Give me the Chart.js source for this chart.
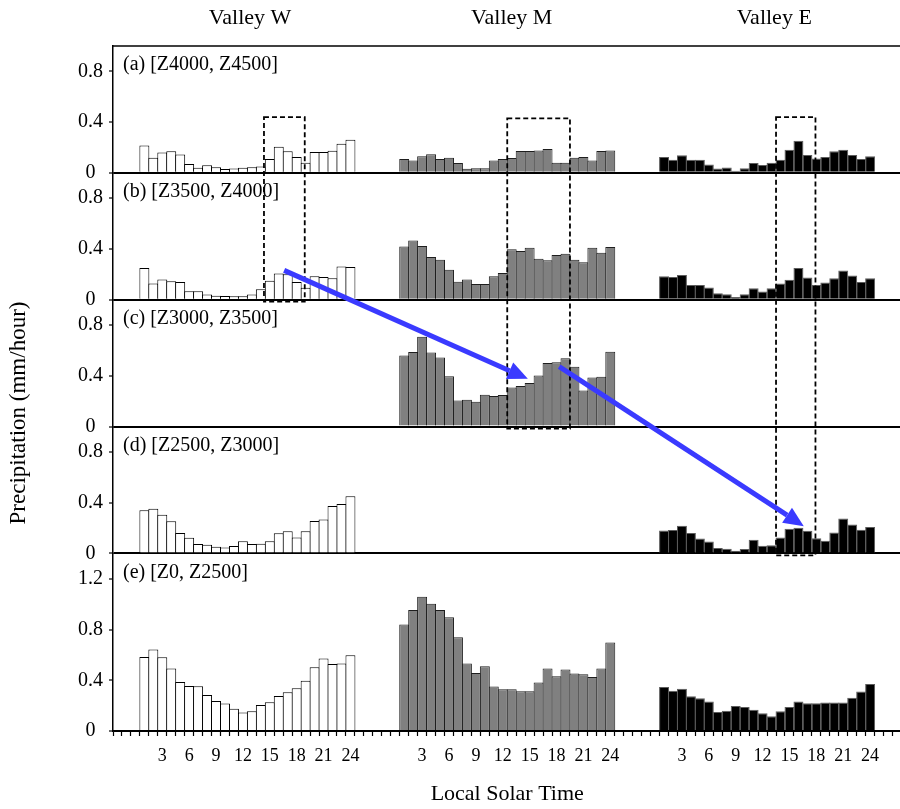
<!DOCTYPE html>
<html>
<head>
<meta charset="utf-8">
<title>Diurnal precipitation by valley and elevation band</title>
<script src="https://cdn.jsdelivr.net/npm/chart.js@4/dist/chart.umd.min.js"></script>
<style>
  html, body { margin: 0; padding: 0; background: #fff; overflow: hidden; }
  #wrap { position: relative; width: 906px; height: 809px; }
</style>
</head>
<body>
<div id="wrap"><canvas id="chart"></canvas></div>
<script>
// Hourly precipitation (mm/hour), hours 1..24, per valley and elevation band
const valleys = ['Valley W', 'Valley M', 'Valley E'];
const hourTicks = ['3', '6', '9', '12', '15', '18', '21', '24'];

// (a) [Z4000, Z4500]
const wA = [0.215, 0.12, 0.16, 0.17, 0.145, 0.07, 0.04, 0.06, 0.045, 0.03, 0.035, 0.04, 0.045, 0.05, 0.11, 0.205, 0.17, 0.125, 0.08, 0.165, 0.165, 0.175, 0.23, 0.26];
const mA = [0.11, 0.098, 0.13, 0.146, 0.11, 0.12, 0.077, 0.032, 0.037, 0.037, 0.098, 0.11, 0.117, 0.172, 0.172, 0.177, 0.188, 0.08, 0.08, 0.12, 0.125, 0.098, 0.172, 0.177];
const eA = [0.125, 0.103, 0.138, 0.103, 0.103, 0.066, 0.034, 0.042, 0.016, 0.037, 0.077, 0.061, 0.08, 0.103, 0.183, 0.254, 0.14, 0.114, 0.125, 0.17, 0.183, 0.14, 0.109, 0.13];
// (b) [Z3500, Z4000]
const wB = [0.25, 0.127, 0.16, 0.145, 0.14, 0.066, 0.066, 0.042, 0.032, 0.03, 0.027, 0.027, 0.042, 0.082, 0.15, 0.207, 0.2, 0.14, 0.095, 0.185, 0.178, 0.17, 0.262, 0.257];
const mB = [0.419, 0.467, 0.424, 0.336, 0.315, 0.237, 0.141, 0.16, 0.123, 0.123, 0.184, 0.21, 0.397, 0.384, 0.41, 0.323, 0.312, 0.352, 0.363, 0.315, 0.296, 0.41, 0.37, 0.416];
const eB = [0.184, 0.179, 0.195, 0.115, 0.115, 0.096, 0.051, 0.043, 0.021, 0.043, 0.091, 0.064, 0.091, 0.128, 0.157, 0.25, 0.176, 0.115, 0.135, 0.17, 0.23, 0.19, 0.14, 0.17];
// (c) [Z3000, Z3500]
const wC = [0, 0, 0, 0, 0, 0, 0, 0, 0, 0, 0, 0, 0, 0, 0, 0, 0, 0, 0, 0, 0, 0, 0, 0];
const mC = [0.56, 0.587, 0.707, 0.584, 0.544, 0.397, 0.205, 0.211, 0.195, 0.251, 0.24, 0.248, 0.307, 0.32, 0.344, 0.403, 0.501, 0.507, 0.539, 0.472, 0.285, 0.387, 0.392, 0.589];
const eC = [0, 0, 0, 0, 0, 0, 0, 0, 0, 0, 0, 0, 0, 0, 0, 0, 0, 0, 0, 0, 0, 0, 0, 0];
// (d) [Z2500, Z3000]
const wD = [0.34, 0.353, 0.305, 0.253, 0.16, 0.124, 0.074, 0.068, 0.053, 0.047, 0.058, 0.095, 0.074, 0.076, 0.095, 0.158, 0.174, 0.126, 0.174, 0.255, 0.268, 0.374, 0.39, 0.45];
const mD = [0, 0, 0, 0, 0, 0, 0, 0, 0, 0, 0, 0, 0, 0, 0, 0, 0, 0, 0, 0, 0, 0, 0, 0];
const eD = [0.181, 0.184, 0.219, 0.16, 0.117, 0.093, 0.043, 0.037, 0.021, 0.035, 0.107, 0.061, 0.064, 0.125, 0.195, 0.203, 0.179, 0.12, 0.099, 0.165, 0.275, 0.227, 0.187, 0.208];
// (e) [Z0, Z2500]
const wE = [0.584, 0.642, 0.582, 0.492, 0.387, 0.355, 0.353, 0.284, 0.237, 0.216, 0.176, 0.145, 0.155, 0.205, 0.226, 0.276, 0.305, 0.337, 0.397, 0.503, 0.571, 0.529, 0.532, 0.597];
const mE = [0.84, 0.953, 1.058, 1.003, 0.953, 0.897, 0.739, 0.532, 0.458, 0.511, 0.35, 0.329, 0.329, 0.313, 0.313, 0.382, 0.492, 0.432, 0.484, 0.453, 0.447, 0.426, 0.492, 0.697];
const eE = [0.347, 0.318, 0.334, 0.274, 0.258, 0.232, 0.15, 0.16, 0.197, 0.189, 0.168, 0.139, 0.116, 0.155, 0.189, 0.232, 0.218, 0.218, 0.224, 0.224, 0.224, 0.263, 0.311, 0.371];

const panels = [
  { id: 'ya', label: '(a) [Z4000, Z4500]', max: 1.0, series: [wA, mA, eA] },
  { id: 'yb', label: '(b) [Z3500, Z4000]', max: 1.0, series: [wB, mB, eB] },
  { id: 'yc', label: '(c) [Z3000, Z3500]', max: 1.0, series: [wC, mC, eC] },
  { id: 'yd', label: '(d) [Z2500, Z3000]', max: 1.0, series: [wD, mD, eD] },
  { id: 'ye', label: '(e) [Z0, Z2500]', max: 1.4, series: [wE, mE, eE] }
];

// empty slots before, between and after the three 24-hour groups
const LEAD = 3, GAP = 5, TAIL = 3;
const slotLabels = [];
const groupStart = [];
for (let s = 0; s < LEAD; s++) slotLabels.push('');
valleys.forEach((v, g) => {
  if (g > 0) for (let s = 0; s < GAP; s++) slotLabels.push('');
  groupStart.push(slotLabels.length);
  for (let h = 1; h <= 24; h++) slotLabels.push(hourTicks.includes(String(h)) ? String(h) : '');
});
for (let s = 0; s < TAIL; s++) slotLabels.push('');

const fills = ['#ffffff', '#808080', '#000000'];
const edges = ['#000000', '#1e1e1e', '#5c5c5c'];

const datasets = [];
panels.forEach(p => {
  p.series.forEach((vals, g) => {
    const data = new Array(slotLabels.length).fill(null);
    vals.forEach((v, i) => { data[groupStart[g] + i] = v; });
    datasets.push({
      label: valleys[g] + ' ' + p.label,
      data: data,
      yAxisID: p.id,
      grouped: false,
      barPercentage: 1.111,
      categoryPercentage: 1,
      backgroundColor: fills[g],
      borderColor: edges[g],
      borderWidth: 1,
      borderSkipped: 'start'
    });
  });
});

const SERIF = "'Liberation Serif', 'Times New Roman', serif";

// dashed boxes: x in slot units, top in panel (a), bottom at the given panel's baseline
const boxes = [
  { x0: 16.35, x1: 20.9, top: 0.44, bottomPanel: 'yb' },
  { x0: 43.5, x1: 50.5, top: 0.43, bottomPanel: 'yc' },
  { x0: 73.5, x1: 77.9, top: 0.44, bottomPanel: 'yd' }
];
const arrows = [
  { from: { x: 18.6, panel: 'yb', v: 0.231 }, to: { x: 45.8, panel: 'yc', v: 0.376 } },
  { from: { x: 49.3, panel: 'yc', v: 0.473 }, to: { x: 76.6, panel: 'yd', v: 0.215 } }
];
const valleyCenters = [14.8, 44.0, 73.3];

const yScales = {};
// left-stacked scales are placed last-defined first, so define (e) first to get (a) on top
panels.slice().reverse().forEach(p => {
  yScales[p.id] = {
    type: 'linear',
    position: 'left',
    stack: 'panels',
    stackWeight: p.max,
    min: 0,
    max: p.max,
    border: { display: true, color: '#000', width: 1.5 },
    grid: {
      drawTicks: true,
      tickLength: 4,
      tickColor: '#000',
      tickWidth: 1.2,
      color: ctx => (ctx.tick && ctx.tick.value === 0) ? '#000' : 'rgba(0,0,0,0)',
      lineWidth: ctx => (ctx.tick && ctx.tick.value === 0) ? 2 : 0
    },
    ticks: { stepSize: 0.4, includeBounds: false, padding: 6, crossAlign: 'center', color: '#000', font: { family: SERIF, size: 20 } },
    afterFit: scale => { scale.width = 113; }
  };
});

const decorations = {
  id: 'decorations',
  afterDatasetsDraw(chart) {
    const { ctx, chartArea, scales } = chart;
    const x = scales.x;
    ctx.save();

    // top frame line
    ctx.strokeStyle = '#000';
    ctx.lineWidth = 1.5;
    ctx.beginPath();
    ctx.moveTo(chartArea.left, chartArea.top);
    ctx.lineTo(chartArea.right, chartArea.top);
    ctx.stroke();

    // panel captions
    ctx.fillStyle = '#000';
    ctx.font = '20px ' + SERIF;
    ctx.textAlign = 'left';
    ctx.textBaseline = 'middle';
    panels.forEach(p => {
      ctx.fillText(p.label, chartArea.left + 10, scales[p.id].top + 19);
    });

    // valley headings
    ctx.font = '22px ' + SERIF;
    ctx.textAlign = 'center';
    valleys.forEach((v, g) => {
      ctx.fillText(v, x.getPixelForValue(valleyCenters[g]), 18);
    });

    // y title
    ctx.font = '23px ' + SERIF;
    ctx.save();
    ctx.translate(19, 413);
    ctx.rotate(-Math.PI / 2);
    ctx.fillText('Precipitation (mm/hour)', 0, 0);
    ctx.restore();

    // dashed boxes
    ctx.setLineDash([5, 3]);
    ctx.lineWidth = 1.8;
    ctx.strokeStyle = '#000';
    boxes.forEach(b => {
      const l = x.getPixelForValue(b.x0);
      const r = x.getPixelForValue(b.x1);
      const t = scales.ya.getPixelForValue(b.top);
      const bt = scales[b.bottomPanel].getPixelForValue(0) + 2;
      ctx.strokeRect(l, t, r - l, bt - t);
    });
    ctx.setLineDash([]);

    // arrows
    ctx.strokeStyle = '#3a3aff';
    ctx.fillStyle = '#3a3aff';
    ctx.lineWidth = 5;
    arrows.forEach(a => {
      const x0 = x.getPixelForValue(a.from.x), y0 = scales[a.from.panel].getPixelForValue(a.from.v);
      const x1 = x.getPixelForValue(a.to.x), y1 = scales[a.to.panel].getPixelForValue(a.to.v);
      const ang = Math.atan2(y1 - y0, x1 - x0);
      const head = 20, half = 9;
      const bx = x1 - head * Math.cos(ang), by = y1 - head * Math.sin(ang);
      ctx.beginPath();
      ctx.moveTo(x0, y0);
      ctx.lineTo(bx, by);
      ctx.stroke();
      ctx.beginPath();
      ctx.moveTo(x1, y1);
      ctx.lineTo(bx + half * Math.sin(ang), by - half * Math.cos(ang));
      ctx.lineTo(bx - half * Math.sin(ang), by + half * Math.cos(ang));
      ctx.closePath();
      ctx.fill();
    });

    ctx.restore();
  }
};

new Chart(document.getElementById('chart'), {
  type: 'bar',
  data: { labels: slotLabels, datasets: datasets },
  options: {
    responsive: true,
    maintainAspectRatio: false,
    animation: false,
    layout: { padding: { top: 46, right: 1, left: 0, bottom: 0 } },
    plugins: { legend: { display: false }, tooltip: { enabled: false } },
    scales: Object.assign({
      x: {
        type: 'category',
        offset: true,
        border: { display: true, color: '#000', width: 1.5 },
        grid: { offset: true, drawOnChartArea: false, drawTicks: true, tickLength: 5, tickColor: '#000', tickWidth: 1.2 },
        ticks: { autoSkip: false, maxRotation: 0, minRotation: 0, padding: 9, color: '#000', font: { family: SERIF, size: 18 } },
        title: { display: true, text: 'Local Solar Time', color: '#000', font: { family: SERIF, size: 22 }, padding: { top: 4, bottom: 2 } },
        afterFit: scale => { scale.height = 78; }
      }
    }, yScales)
  },
  plugins: [decorations]
});
</script>
</body>
</html>
